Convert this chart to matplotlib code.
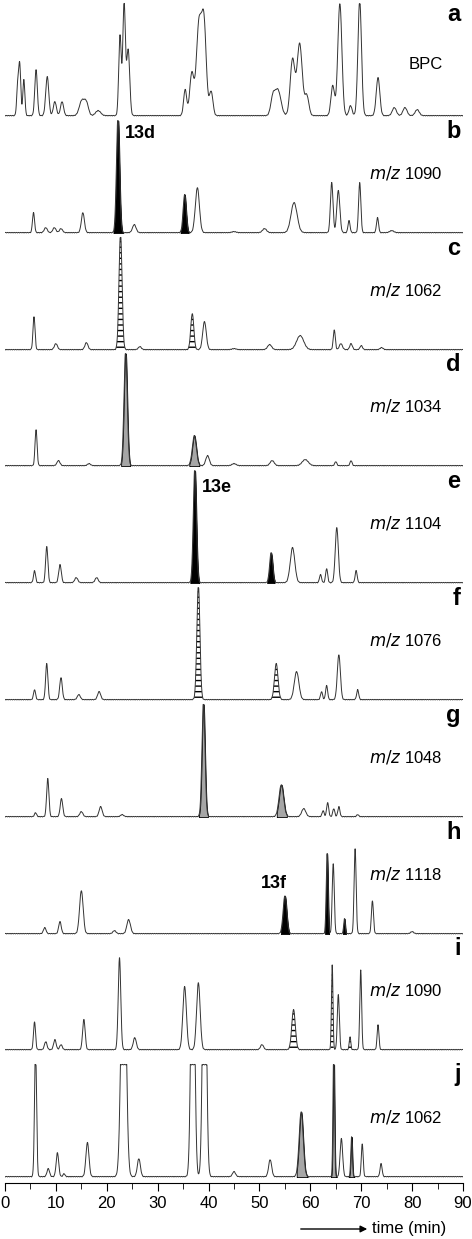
import numpy as np
import matplotlib
matplotlib.use('Agg')
import matplotlib.pyplot as plt

plt.rcParams['font.family'] = ['Liberation Sans', 'DejaVu Sans']

# panel letters, ion labels, baselines (in pixel-like y units)
panels = ['a', 'b', 'c', 'd', 'e', 'f', 'g', 'h', 'i', 'j']
ions = ['BPC', '1090', '1062', '1034', '1104', '1076', '1048', '1118', '1090', '1062']
baselines = [116, 233, 350, 466, 583, 700, 817, 934, 1050, 1177]

# peaks: (retention time, height, width)
peaks_a = [(2.5, 30, .2), (2.9, 49, .2), (3.7, 36, .2), (6.1, 46, .25), (8.3, 39, .3), (9.8, 14, .3),
           (11.2, 14, .3), (15.1, 15, .5), (16, 12, .4), (18.3, 5, .5), (22.6, 80, .25), (23.4, 112, .25),
           (24.2, 66, .3), (35.4, 26, .3), (36.7, 42, .4), (38.1, 90, .5), (39.1, 90, .45), (40.5, 24, .35),
           (52.6, 16, .4), (53.6, 26, .6), (56.5, 56, .45), (57.9, 72, .5), (59.3, 20, .4), (64.4, 30, .35),
           (65.8, 112, .4), (67.9, 10, .3), (69.7, 115, .35), (73.3, 38, .35), (76.5, 8, .4), (78.6, 8, .4),
           (81, 6, .4)]
peaks_b = [(5.6, 20, .2), (8, 5, .3), (9.7, 5, .3), (11, 4, .3), (15.3, 20, .3), (22.2, 116, .3),
           (25.4, 8, .35), (35.3, 38, .3), (37.8, 45, .4), (45, 1, .4), (51, 4, .4), (56.8, 30, .6),
           (64.2, 50, .25), (65.5, 42, .3), (67.6, 12, .2), (69.7, 50, .22), (73.2, 15, .2), (76, 2, .4)]
peaks_c = [(5.7, 33, .2), (10, 6, .3), (16, 7, .3), (22.7, 116, .3), (26.5, 3, .3), (36.8, 36, .3),
           (39.2, 28, .35), (45, 1, .4), (52, 5, .4), (58, 14, .7), (64.7, 20, .2), (66, 6, .3),
           (68, 6, .25), (70, 4, .25), (74, 2, .3)]
peaks_d = [(6.1, 36, .2), (10.5, 5, .3), (16.5, 2, .3), (23.7, 115, .32), (37.2, 30, .4), (39.8, 10, .35),
           (45, 2, .4), (52.5, 5, .4), (59, 6, .6), (65, 4, .2), (68, 5, .2)]
peaks_e = [(5.8, 12, .2), (8.2, 36, .22), (10.8, 18, .25), (14, 5, .3), (18, 5, .3), (37.3, 115, .3),
           (52.3, 30, .3), (56.5, 35, .45), (62, 8, .2), (63.2, 14, .2), (65.2, 55, .3), (69, 12, .2)]
peaks_f = [(5.8, 10, .2), (8.2, 36, .22), (11, 22, .25), (14.5, 5, .3), (18.5, 8, .3), (38, 115, .3),
           (53.3, 36, .35), (57.3, 28, .45), (62.2, 8, .2), (63.2, 14, .2), (65.6, 45, .3), (69.3, 10, .2)]
peaks_g = [(6, 4, .2), (8.4, 38, .22), (11.1, 18, .25), (15, 5, .3), (18.8, 10, .3), (23, 2, .3),
           (39, 115, .3), (54.3, 32, .45), (58.7, 8, .4), (62.5, 6, .2), (63.4, 14, .2), (64.6, 8, .2),
           (65.6, 10, .2), (69.3, 2, .2)]
peaks_h = [(7.8, 6, .25), (10.8, 12, .25), (15, 43, .35), (21.5, 3, .3), (24.3, 14, .35), (55, 38, .35),
           (63.3, 80, .18), (64.5, 70, .2), (66.7, 15, .15), (68.8, 85, .2), (72.2, 33, .2), (80, 2, .3)]
peaks_i = [(5.8, 28, .2), (8, 8, .25), (9.8, 10, .25), (11, 5, .25), (15.5, 30, .25), (22.5, 92, .25),
           (25.5, 12, .3), (35.3, 63, .35), (38, 67, .35), (50.5, 5, .3), (56.7, 40, .35), (64.3, 85, .15),
           (65.5, 55, .2), (67.8, 13, .15), (69.9, 80, .18), (73.3, 25, .18)]
peaks_j = [(6.0, 130, .2), (8.5, 8, .25), (10.3, 24, .25), (11.6, 3, .2), (16.2, 34, .3), (23.3, 300, .45),
           (26.3, 18, .3), (36.9, 300, .35), (39.2, 300, .35), (45, 5, .3), (52.1, 17, .3), (58.2, 65, .4),
           (64.6, 130, .15), (66.1, 38, .25), (68.1, 40, .15), (70.2, 33, .18), (73.9, 13, .2)]
all_peaks = [peaks_a, peaks_b, peaks_c, peaks_d, peaks_e, peaks_f, peaks_g, peaks_h, peaks_i, peaks_j]

# shaded peaks: (panel index, t start, t end, style)
shaded = [(1, 21.3, 23.2, 'black'), (1, 34.5, 36.1, 'black'),
          (2, 21.8, 23.6, 'hatch'), (2, 36.0, 37.6, 'hatch'),
          (3, 22.8, 24.6, 'gray'), (3, 36.2, 38.2, 'gray'),
          (4, 36.4, 38.2, 'black'), (4, 51.5, 53.0, 'black'),
          (5, 37.1, 38.9, 'hatch'), (5, 52.4, 54.2, 'hatch'),
          (6, 38.1, 39.9, 'gray'), (6, 53.4, 55.4, 'gray'),
          (7, 54.2, 55.9, 'black'), (7, 62.9, 63.7, 'black'), (7, 66.4, 67.0, 'black'),
          (8, 55.8, 57.6, 'hatch'), (8, 64.0, 64.6, 'hatch'), (8, 67.5, 68.1, 'hatch'),
          (9, 57.3, 59.5, 'gray'), (9, 64.0, 65.2, 'gray'), (9, 67.5, 68.6, 'gray')]

compounds = [('13d', 23.5, 133), ('13e', 38.7, 487), ('13f', 50.2, 883)]

t = np.linspace(0, 90, 4000)
fig = plt.figure(figsize=(4.72, 12.39), dpi=100)
ax = fig.add_axes([5 / 472, 56 / 1239, 458 / 472, 1183 / 1239])
ax.set_xlim(0, 90)
ax.set_ylim(1183, 0)

traces = []
for k, peaks in enumerate(all_peaks):
    y = np.zeros_like(t)
    for rt, h, w in peaks:
        y += h * np.exp(-0.5 * ((t - rt) / w) ** 2)
    y = np.minimum(y, 112)
    y += 0.6 * np.abs(np.sin(t * 7.3 + k))
    traces.append(baselines[k] - y)

for k, start, end, style in shaded:
    m = (t >= start) & (t <= end)
    base = baselines[k]
    if style == 'hatch':
        ax.fill_between(t[m], traces[k][m], base, facecolor='white', edgecolor='black',
                        hatch='---', linewidth=0)
    else:
        c = 'black' if style == 'black' else '#a6a6a6'
        ax.fill_between(t[m], traces[k][m], base, facecolor=c, edgecolor='black', linewidth=0.6)

for k in range(10):
    ax.plot(t, traces[k], color='#333333', lw=0.7)
    ax.text(89.5, baselines[k] - 102, panels[k], fontsize=17, fontweight='bold', ha='right', va='center')
    if k == 0:
        ax.text(86, baselines[k] - 52, ions[k], fontsize=12, ha='right', va='center')
    else:
        ax.text(86, baselines[k] - 60, r'$\it{m/z}$ ' + ions[k], fontsize=12, ha='right', va='center')

for name, xt, yt in compounds:
    ax.text(xt, yt, name, fontsize=13, fontweight='bold', va='center')

for s in ['top', 'right', 'left']:
    ax.spines[s].set_visible(False)
ax.set_yticks([])
ax.set_xticks(range(0, 91, 10))
ax.set_xticks(range(0, 91, 5), minor=True)
ax.tick_params(axis='x', length=6, labelsize=12)
ax.tick_params(axis='x', which='minor', length=4)

ax.annotate('', xy=(370 / 472, 1 - 1229 / 1239), xytext=(298 / 472, 1 - 1229 / 1239),
            xycoords='figure fraction', arrowprops=dict(arrowstyle='-|>', color='black', lw=1))
fig.text(372 / 472, 1 - 1229 / 1239, 'time (min)', fontsize=12, va='center')

fig.savefig('out.png', dpi=100)
